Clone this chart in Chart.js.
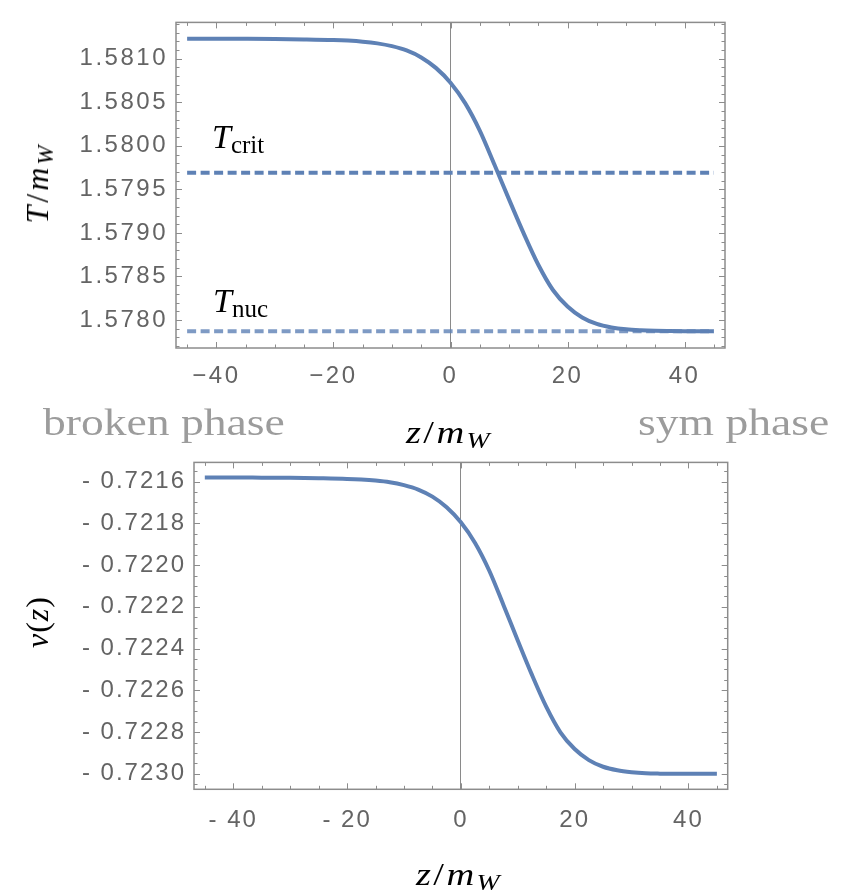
<!DOCTYPE html>
<html>
<head>
<meta charset="utf-8">
<script src="https://cdn.jsdelivr.net/npm/chart.js@4.4.0/dist/chart.umd.min.js"></script>
<style>
  body { margin: 0; background: #fff; }
  #page { position: relative; width: 851px; height: 893px; overflow: hidden; }
  canvas { position: absolute; left: 0; }
  .lbl { position: absolute; font-family: 'Liberation Serif', serif; line-height: 1; white-space: nowrap; color: #000; }
  .sub { font-size: 0.72em; position: relative; top: 0.2em; }
  .phase { color: #9c9c9c; font-size: 38px; transform-origin: 0 0; transform: scaleX(1.2); }
  .wide { transform-origin: 50% 0; transform: translateX(-50%) scaleX(1.2); }
  .rot { transform: translate(-50%, -50%) rotate(-90deg); }
</style>
</head>
<body>
<div id="page">
  <canvas id="tempChart" width="851" height="400" style="top:0"></canvas>
  <canvas id="vevChart" width="851" height="453" style="top:440px"></canvas>

  <div class="lbl rot" style="left:37px; top:183px; font-size:32px; letter-spacing:3px"><i>T</i>/<i>m</i><span class="sub"><i>W</i></span></div>
  <div class="lbl" style="left:212px; top:120px; font-size:34px"><i>T</i><span class="sub" style="font-size:25px; top:5px">crit</span></div>
  <div class="lbl" style="left:213px; top:284px; font-size:34px"><i>T</i><span class="sub" style="font-size:25px; top:5px">nuc</span></div>
  <div class="lbl phase" style="left:43px; top:403px">broken phase</div>
  <div class="lbl phase" style="left:638px; top:403px">sym phase</div>
  <div class="lbl wide" style="left:449px; top:416px; font-size:32px; letter-spacing:2px"><i>z</i>/<i>m</i><span class="sub"><i>W</i></span></div>
  <div class="lbl rot" style="left:37px; top:622px; font-size:32px; letter-spacing:1px"><i>v</i>(<i>z</i>)</div>
  <div class="lbl wide" style="left:459px; top:858px; font-size:32px; letter-spacing:2px"><i>z</i>/<i>m</i><span class="sub"><i>W</i></span></div>
</div>

<script>
// positions along the wall, z/m_W
const zValues = [-45, -40, -35, -30, -25, -20, -17.5, -15, -12.5, -10, -7.5, -5, -2.5, 0,
  2.5, 5, 7.5, 10, 12.5, 15, 17.5, 20, 22.5, 25, 27.5, 30, 32.5, 35, 37.5, 40, 42.5, 45];

// T/m_W profile (top panel)
const tempValues = [1.581230, 1.581229, 1.581228, 1.581226, 1.581222, 1.581215, 1.581208, 1.581196,
  1.581176, 1.581144, 1.581095, 1.581015, 1.580895, 1.580725, 1.580490, 1.580175, 1.579785, 1.579385,
  1.578995, 1.578635, 1.578345, 1.578155, 1.578030, 1.577955, 1.577915, 1.577893, 1.577882, 1.577876,
  1.577873, 1.577871, 1.577870, 1.577870];

// v(z) profile (bottom panel)
const vevValues = [-0.721580, -0.721580, -0.721581, -0.721582, -0.721584, -0.721587, -0.721590, -0.721595,
  -0.721603, -0.721617, -0.721638, -0.721672, -0.721723, -0.721795, -0.721894, -0.722027, -0.722192, -0.722361,
  -0.722526, -0.722678, -0.722801, -0.722881, -0.722934, -0.722966, -0.722983, -0.722992, -0.722997, -0.722999,
  -0.723000, -0.723000, -0.723000, -0.723000];

// reference temperatures
const tCrit = 1.57969;
const tNuc = 1.57787;
const refLineEnds = [-45, 45];

// ticks
const xTicks = [-40, -20, 0, 20, 40];
const topXLabels = ['\u221240', '\u221220', '0', '20', '40'];
const bottomXLabels = ['- 40', '- 20', '0', '20', '40'];
const topYTicks = [1.578, 1.5785, 1.579, 1.5795, 1.58, 1.5805, 1.581];
const topYLabels = ['1.5780', '1.5785', '1.5790', '1.5795', '1.5800', '1.5805', '1.5810'];
const bottomYTicks = [-0.723, -0.7228, -0.7226, -0.7224, -0.7222, -0.722, -0.7218, -0.7216];
const bottomYLabels = ['- 0.7230', '- 0.7228', '- 0.7226', '- 0.7224', '- 0.7222', '- 0.7220', '- 0.7218', '- 0.7216'];

const blue = '#5E81B5';
const labelGrey = '#646464';
const frameGrey = '#8c8c8c';

// Mathematica style frame with inward ticks on all four sides
const frameTicks = {
  id: 'frameTicks',
  beforeDraw(chart, args, opts) {
    chart.ctx.letterSpacing = opts.spacing + 'px';
  },
  afterDraw(chart, args, opts) {
    const { ctx, chartArea: a } = chart;
    const x = chart.scales.x, y = chart.scales.y;
    ctx.save();
    ctx.letterSpacing = '0px';
    ctx.strokeStyle = frameGrey;
    ctx.lineWidth = 1;
    ctx.beginPath();
    opts.xMarks.forEach(m => {
      const px = Math.round(x.getPixelForValue(m.v)) + 0.5;
      const len = m.major ? 6 : 3.5;
      ctx.moveTo(px, a.bottom); ctx.lineTo(px, a.bottom - len);
      ctx.moveTo(px, a.top); ctx.lineTo(px, a.top + len);
    });
    opts.yMarks.forEach(m => {
      const py = Math.round(y.getPixelForValue(m.v)) + 0.5;
      const len = m.major ? 6 : 3.5;
      ctx.moveTo(a.left, py); ctx.lineTo(a.left + len, py);
      ctx.moveTo(a.right, py); ctx.lineTo(a.right - len, py);
    });
    ctx.stroke();
    ctx.lineWidth = 1.5;
    ctx.strokeRect(a.left, a.top, a.right - a.left, a.bottom - a.top);
    ctx.restore();
  }
};

function xMarks() {
  const out = [];
  for (let v = -45; v <= 45; v += 5) out.push({ v: v, major: v % 20 === 0 });
  return out;
}

function yMarks(kFrom, kTo, unit, every) {
  const out = [];
  for (let k = kFrom; k <= kTo; k++) out.push({ v: k * unit, major: k % every === 0 });
  return out;
}

function pts(xs, ys) {
  return xs.map((x, i) => ({ x: x, y: ys[i] }));
}

function buildOptions(p) {
  return {
    responsive: false,
    animation: false,
    devicePixelRatio: 1,
    layout: { padding: { top: p.top, right: p.right, left: 0, bottom: 0 } },
    plugins: {
      legend: { display: false },
      tooltip: { enabled: false },
      frameTicks: { spacing: p.spacing, xMarks: p.xMarks, yMarks: p.yMarks }
    },
    elements: { point: { radius: 0 } },
    scales: {
      x: {
        type: 'linear',
        min: -46.9,
        max: 46.9,
        afterFit: s => { s.height = p.xHeight; },
        afterBuildTicks: s => { s.ticks = xTicks.map(v => ({ value: v })); },
        border: { display: false },
        grid: {
          drawTicks: false,
          lineWidth: 1,
          color: c => (c.tick && c.tick.value === 0) ? '#8a8a8a' : 'rgba(0,0,0,0)'
        },
        ticks: {
          padding: p.xPad,
          color: labelGrey,
          font: { family: 'Liberation Sans', size: 24 },
          maxRotation: 0,
          callback: (v, i) => p.xLabels[i]
        }
      },
      y: {
        min: p.yMin,
        max: p.yMax,
        afterFit: s => { s.width = p.yWidth; },
        afterBuildTicks: s => { s.ticks = p.yTicks.map(v => ({ value: v })); },
        border: { display: false },
        grid: { display: false, drawTicks: false },
        ticks: {
          padding: p.yPad,
          color: labelGrey,
          font: { family: 'Liberation Sans', size: 24 },
          callback: (v, i) => p.yLabels[i]
        }
      }
    }
  };
}

new Chart(document.getElementById('tempChart'), {
  type: 'line',
  data: {
    datasets: [
      { data: pts(zValues, tempValues), borderColor: blue, borderWidth: 4, cubicInterpolationMode: 'monotone' },
      { data: pts(refLineEnds, [tCrit, tCrit]), borderColor: blue, borderWidth: 4, borderDash: [9, 4.5] },
      { data: pts(refLineEnds, [tNuc, tNuc]), borderColor: 'rgba(94,129,181,0.8)', borderWidth: 4, borderDash: [9, 4.5] }
    ]
  },
  options: buildOptions({
    top: 10, right: 126, xHeight: 52, yWidth: 176, xPad: 14, yPad: 8, spacing: 2.5,
    yMin: 1.577679, yMax: 1.581417,
    xLabels: topXLabels, yTicks: topYTicks, yLabels: topYLabels,
    xMarks: xMarks(), yMarks: yMarks(15777, 15814, 0.0001, 5)
  }),
  plugins: [frameTicks]
});

new Chart(document.getElementById('vevChart'), {
  type: 'line',
  data: {
    datasets: [
      { data: pts(zValues, vevValues), borderColor: blue, borderWidth: 4, cubicInterpolationMode: 'monotone' }
    ]
  },
  options: buildOptions({
    top: 20.7, right: 123.3, xHeight: 103.7, yWidth: 194, xPad: 17, yPad: 8, spacing: 2,
    yMin: -0.723074, yMax: -0.721508,
    xLabels: bottomXLabels, yTicks: bottomYTicks, yLabels: bottomYLabels,
    xMarks: xMarks(), yMarks: yMarks(-14461, -14431, 0.00005, 4)
  }),
  plugins: [frameTicks]
});
</script>
</body>
</html>
